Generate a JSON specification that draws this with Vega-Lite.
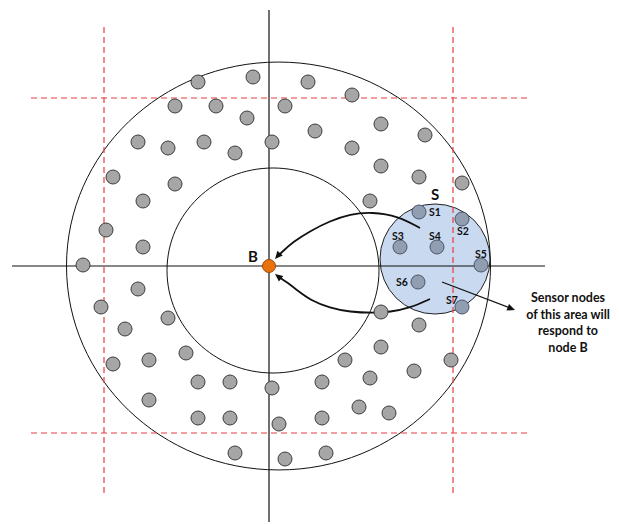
{
  "$schema": "https://vega.github.io/schema/vega-lite/v6.json",
  "width": 619,
  "height": 524,
  "autosize": {"type": "fit", "contains": "padding"},
  "padding": 0,
  "background": "white",
  "config": {"view": {"stroke": null}},
  "datasets": {
    "nodes": [
      {"x":198,"y":82},{"x":253,"y":77},{"x":308,"y":82},{"x":352,"y":95},
      {"x":175,"y":106},{"x":216,"y":106},{"x":285,"y":106},{"x":247,"y":118},
      {"x":381,"y":124},{"x":315,"y":131},{"x":425,"y":135},{"x":138,"y":142},
      {"x":168,"y":148},{"x":204,"y":142},{"x":235,"y":153},{"x":272,"y":142},
      {"x":352,"y":148},{"x":381,"y":166},{"x":419,"y":177},{"x":462,"y":183},
      {"x":113,"y":177},{"x":175,"y":184},{"x":143,"y":201},{"x":370,"y":201},
      {"x":106,"y":230},{"x":143,"y":247},{"x":83,"y":265},{"x":138,"y":289},
      {"x":101,"y":307},{"x":168,"y":318},{"x":125,"y":329},{"x":381,"y":312},
      {"x":419,"y":325},{"x":113,"y":364},{"x":149,"y":360},{"x":186,"y":353},
      {"x":381,"y":347},{"x":451,"y":360},{"x":345,"y":360},{"x":198,"y":382},
      {"x":230,"y":382},{"x":272,"y":388},{"x":322,"y":382},{"x":370,"y":378},
      {"x":414,"y":371},{"x":149,"y":400},{"x":198,"y":418},{"x":230,"y":418},
      {"x":279,"y":424},{"x":322,"y":418},{"x":359,"y":407},{"x":389,"y":413},
      {"x":235,"y":453},{"x":285,"y":459},{"x":326,"y":453}
    ],
    "sensors": [
      {"x":419,"y":212,"name":"S1","lx":435,"ly":213},
      {"x":462,"y":219,"name":"S2","lx":463,"ly":232},
      {"x":400,"y":247,"name":"S3","lx":398,"ly":237},
      {"x":437,"y":247,"name":"S4","lx":435,"ly":237},
      {"x":481,"y":265,"name":"S5","lx":481,"ly":255},
      {"x":418,"y":282,"name":"S6","lx":402,"ly":283},
      {"x":462,"y":307,"name":"S7","lx":452,"ly":301}
    ],
    "arcs": [
      {"id":"up","i":0,"x":420,"y":228},{"id":"up","i":1,"x":398,"y":216},{"id":"up","i":2,"x":372,"y":212},
      {"id":"up","i":3,"x":350,"y":214},{"id":"up","i":4,"x":330,"y":221},{"id":"up","i":5,"x":310,"y":231},
      {"id":"up","i":6,"x":293,"y":242},{"id":"up","i":7,"x":282,"y":252},{"id":"up","i":8,"x":278,"y":256},
      {"id":"lo","i":0,"x":430,"y":299},{"id":"lo","i":1,"x":410,"y":308},{"id":"lo","i":2,"x":390,"y":312},
      {"id":"lo","i":3,"x":373,"y":313},{"id":"lo","i":4,"x":350,"y":312},{"id":"lo","i":5,"x":330,"y":308},
      {"id":"lo","i":6,"x":310,"y":300},{"id":"lo","i":7,"x":297,"y":290},{"id":"lo","i":8,"x":285,"y":281},
      {"id":"lo","i":9,"x":279,"y":277}
    ]
  },
  "encoding": {
    "x": {"field": "x", "type": "quantitative", "scale": {"domain": [0, 619], "nice": false, "zero": false}, "axis": null},
    "y": {"field": "y", "type": "quantitative", "scale": {"domain": [0, 524], "nice": false, "zero": false, "reverse": true}, "axis": null}
  },
  "layer": [
    {
      "data": {"values": [{"x": 435, "y": 259}]},
      "mark": {"type": "point", "shape": "circle", "size": 12100, "filled": true, "fill": "#c9d9ef", "stroke": "#222222", "strokeWidth": 1, "opacity": 1}
    },
    {
      "data": {"values": [{"x": 278.5, "y": 266}]},
      "mark": {"type": "point", "shape": "M-1,0A1,0.962,0,1,1,1,0A1,0.962,0,1,1,-1,0Z", "size": 179776, "filled": false, "stroke": "#111111", "strokeWidth": 1, "opacity": 1}
    },
    {
      "data": {"values": [{"x": 273, "y": 270.5}]},
      "mark": {"type": "point", "shape": "M-1,0A1,0.967,0,1,1,1,0A1,0.967,0,1,1,-1,0Z", "size": 44944, "filled": false, "stroke": "#111111", "strokeWidth": 1, "opacity": 1}
    },
    {
      "data": {"values": [
        {"x": 104, "y": 27, "x2": 104, "y2": 495},
        {"x": 453, "y": 27, "x2": 453, "y2": 495},
        {"x": 31, "y": 98, "x2": 528, "y2": 98},
        {"x": 31, "y": 433, "x2": 528, "y2": 433}
      ]},
      "mark": {"type": "rule", "color": "#ea3c40", "strokeWidth": 1.2, "strokeDash": [6, 4]},
      "encoding": {"x2": {"field": "x2"}, "y2": {"field": "y2"}}
    },
    {
      "data": {"values": [
        {"x": 269, "y": 10, "x2": 269, "y2": 522},
        {"x": 12, "y": 266, "x2": 545, "y2": 266},
        {"x": 442, "y": 282, "x2": 510, "y2": 308}
      ]},
      "mark": {"type": "rule", "color": "#111111", "strokeWidth": 1.2},
      "encoding": {"x2": {"field": "x2"}, "y2": {"field": "y2"}}
    },
    {
      "data": {"name": "arcs"},
      "mark": {"type": "line", "interpolate": "basis", "color": "#111111", "strokeWidth": 1.8},
      "encoding": {"detail": {"field": "id"}, "order": {"field": "i", "type": "quantitative"}}
    },
    {
      "data": {"values": [{"x": 275, "y": 259}]},
      "mark": {"type": "point", "shape": "M0,0L0.5,1.1L-0.5,1.1Z", "size": 200, "angle": 221, "filled": true, "color": "#111111", "opacity": 1}
    },
    {
      "data": {"values": [{"x": 275, "y": 274}]},
      "mark": {"type": "point", "shape": "M0,0L0.5,1.1L-0.5,1.1Z", "size": 200, "angle": 308, "filled": true, "color": "#111111", "opacity": 1}
    },
    {
      "data": {"values": [{"x": 515, "y": 310}]},
      "mark": {"type": "point", "shape": "M0,0L0.5,1.1L-0.5,1.1Z", "size": 200, "angle": 111, "filled": true, "color": "#111111", "opacity": 1}
    },
    {
      "data": {"name": "nodes"},
      "mark": {"type": "point", "shape": "circle", "size": 196, "filled": true, "fill": "#a6a6a6", "stroke": "#3c3c3c", "strokeWidth": 1, "opacity": 1}
    },
    {
      "data": {"name": "sensors"},
      "mark": {"type": "point", "shape": "circle", "size": 196, "filled": true, "fill": "#919eb1", "stroke": "#4a5668", "strokeWidth": 1, "opacity": 1}
    },
    {
      "data": {"name": "sensors"},
      "mark": {"type": "text", "font": "Lato", "fontWeight": "bold", "fontSize": 10.5, "color": "#111111", "baseline": "middle", "align": "center"},
      "encoding": {"x": {"field": "lx", "type": "quantitative"}, "y": {"field": "ly", "type": "quantitative"}, "text": {"field": "name"}}
    },
    {
      "data": {"values": [{"x": 269, "y": 266}]},
      "mark": {"type": "point", "shape": "circle", "size": 169, "filled": true, "fill": "#e8720c", "stroke": "#9c4a06", "strokeWidth": 1, "opacity": 1}
    },
    {
      "data": {"values": [{"x": 253, "y": 257, "t": "B"}, {"x": 435, "y": 195, "t": "S"}]},
      "mark": {"type": "text", "font": "Lato", "fontWeight": "bold", "fontSize": 15, "color": "#111111", "baseline": "middle", "align": "center"},
      "encoding": {"text": {"field": "t"}}
    },
    {
      "data": {"values": [
        {"x": 568, "y": 298, "t": "Sensor nodes"},
        {"x": 568, "y": 315, "t": "of this area will"},
        {"x": 568, "y": 331, "t": "respond to"},
        {"x": 568, "y": 348, "t": "node B"}
      ]},
      "mark": {"type": "text", "font": "Lato", "fontWeight": "bold", "fontSize": 12.5, "color": "#111111", "baseline": "middle", "align": "center"},
      "encoding": {"text": {"field": "t"}}
    }
  ]
}
